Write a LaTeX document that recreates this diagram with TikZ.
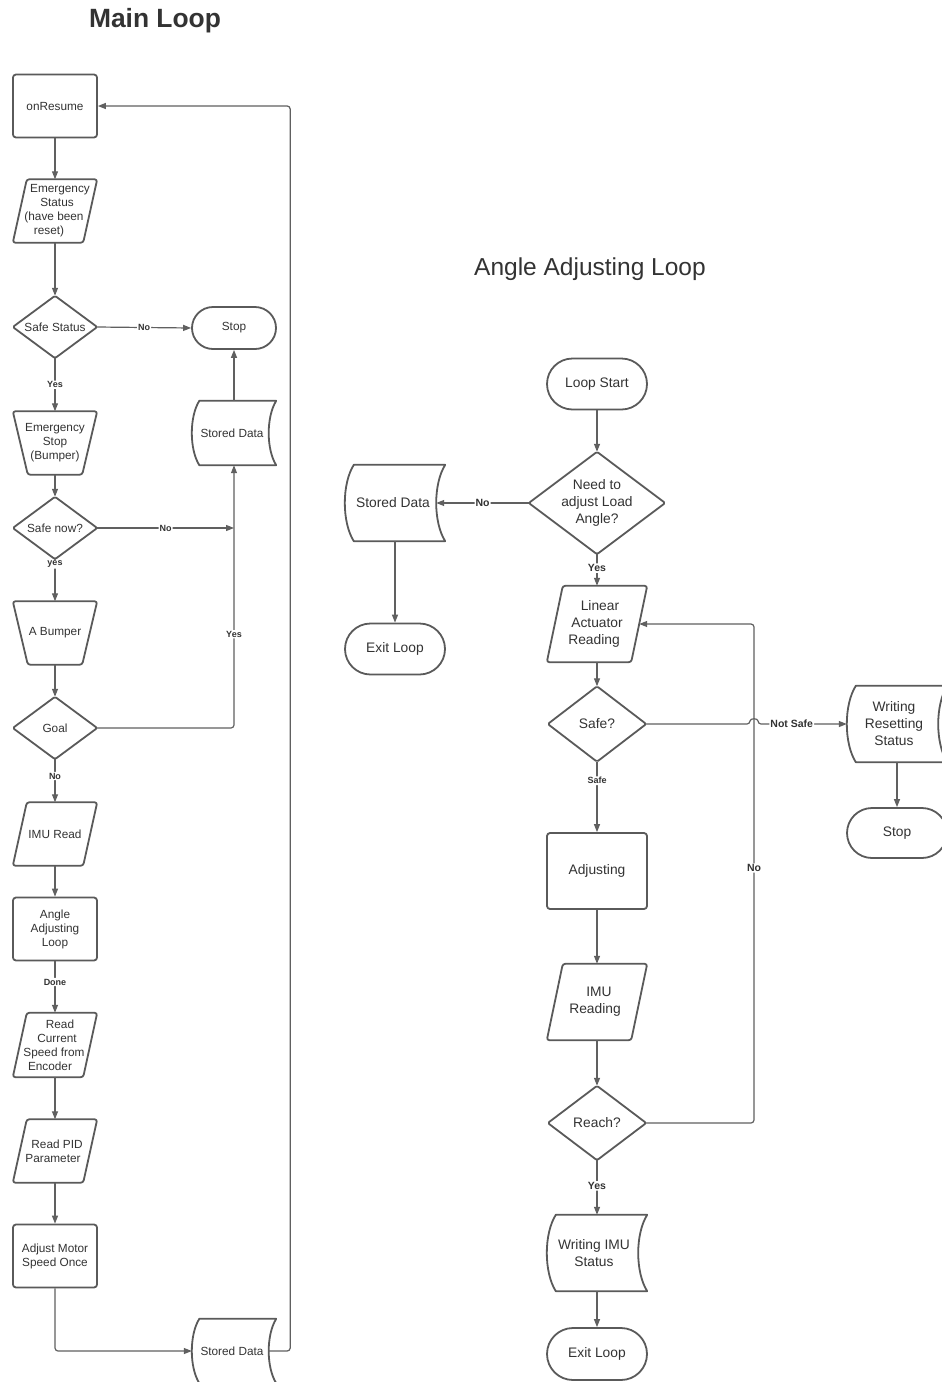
\documentclass[tikz,border=0pt]{standalone}
\usepackage{fontspec}
\setmainfont{Liberation Sans}
\usetikzlibrary{arrows.meta,calc}
\definecolor{shpc}{HTML}{5A5A5A}
\definecolor{linec}{HTML}{606060}
\definecolor{txtc}{HTML}{333333}
\tikzset{
  box/.style={draw=none, inner sep=0pt, align=center, text=txtc, minimum width=84pt, minimum height=63pt, font=\fontsize{11.8}{14}\selectfont},
  bigbox/.style={box, minimum width=100pt, minimum height=76pt, font=\fontsize{13.8}{17}\selectfont},
  shp/.style={draw=shpc, line width=1.8pt, line join=round},
  rectshape/.style={shp, rounded corners=3pt},
  stadium/.style={shp},
  arr/.style={draw=linec, line width=1.2pt, rounded corners=3pt, -{Triangle[length=8pt,width=6pt]}},
  conn/.style={draw=linec, line width=1.2pt, rounded corners=3pt},
  lbl/.style={fill=white, inner sep=1pt, text=txtc, font=\bfseries\fontsize{9}{10}\selectfont},
  lblb/.style={lbl, font=\bfseries\fontsize{10.5}{12}\selectfont},
}
\newcommand\fcpara[2]{\draw[shp, rounded corners=2.5pt] let \p1=(#1.north west),\p2=(#1.south east) in (\x1+#2,\y1) -- (\x2,\y1) -- (\x2-#2,\y2) -- (\x1,\y2) -- cycle;}
\newcommand\fctrap[2]{\draw[shp, rounded corners=2.5pt] let \p1=(#1.north west),\p2=(#1.south east) in (\x1,\y1) -- (\x2,\y1) -- (\x2-#2,\y2) -- (\x1+#2,\y2) -- cycle;}
\newcommand\fcdiam[1]{\draw[shp, rounded corners=1.5pt] (#1.west) -- (#1.north) -- (#1.east) -- (#1.south) -- cycle;}
\newcommand\fcsd[2]{\draw[shp] let \p1=(#1.north west),\p2=(#1.south east) in ({\x1+#2},\y1) -- (\x2,\y1) .. controls ({\x2-1.333*#2},{\y1+0.25*(\y2-\y1)}) and ({\x2-1.333*#2},{\y2-0.25*(\y2-\y1)}) .. (\x2,\y2) -- ({\x1+#2},\y2) .. controls ({\x1-0.333*#2},{\y2-0.25*(\y2-\y1)}) and ({\x1-0.333*#2},{\y1+0.25*(\y2-\y1)}) .. ({\x1+#2},\y1) -- cycle;}
\begin{document}
\begin{tikzpicture}[x=1pt,y=-1pt]
\useasboundingbox (0,0) rectangle (942,1382);
\fill[white] (0,0) rectangle (942,1382);
\clip (0,0) rectangle (942,1382);

% titles
\node[text=txtc, font=\bfseries\fontsize{26.4}{30}\selectfont] (t1) at (155,21) {Main Loop};
\node[text=txtc, font=\fontsize{24.5}{28}\selectfont] (t2) at (590,269) {Angle Adjusting Loop};

% ---------------- Main loop ----------------
\node[box, rectshape] (onr) at (55,106) {onResume};
\node[box] (es) at (55,211) {\hspace*{10pt}Emergency\\\hspace*{4pt}Status\\\hspace*{-2pt}(have been\\\hspace*{-12pt}reset)};
\node[box, minimum height=62pt] (ss) at (55,327) {Safe Status};
\node[box, stadium, minimum height=42pt, rounded corners=21pt] (stop1) at (234,328) {Stop};
\node[box] (esb) at (55,443) {Emergency\\Stop\\(Bumper)};
\node[box, minimum height=64pt] (sd1) at (234,433) {\hspace*{-4pt}Stored Data};
\node[box, minimum height=62pt] (sn) at (55,528) {Safe now?};
\node[box] (ab) at (55,633) {A Bumper};
\node[box, minimum height=62pt] (goal) at (55,728) {Goal};
\node[box] (imu) at (55,834) {IMU Read};
\node[box, rectshape] (aal) at (55,929) {Angle\\Adjusting\\Loop};
\node[box, minimum height=64pt] (rcs) at (55,1045) {\hspace*{10pt}Read\\\hspace*{4pt}Current\\\hspace*{-2pt}Speed from\\\hspace*{-10pt}Encoder};
\node[box] (pid) at (55,1151) {\hspace*{4pt}Read PID\\\hspace*{-4pt}Parameter};
\node[box, rectshape] (ams) at (55,1256) {Adjust Motor\\Speed Once};
\node[box, minimum height=64pt] (sd2) at (234,1351) {\hspace*{-4pt}Stored Data};

\fcpara{es}{14pt}
\fcdiam{ss}
\fctrap{esb}{15pt}
\fcsd{sd1}{7.5pt}
\fcdiam{sn}
\fctrap{ab}{15pt}
\fcdiam{goal}
\fcpara{imu}{14pt}
\fcpara{rcs}{14pt}
\fcpara{pid}{14pt}
\fcsd{sd2}{7.5pt}

\draw[arr] (onr.south) -- (es.north);
\draw[arr] (es.south) -- (ss.north);
\draw[arr] (ss.east) -- node[lbl]{No} (stop1.west);
\draw[arr] (ss.south) -- node[lbl]{Yes} (esb.north);
\draw[arr] (sd1.north) -- (stop1.south);
\draw[arr] (esb.south) -- (sn.north);
\draw[arr] (sn.east) -- node[lbl]{No} (sd1.south |- sn.east);
\draw[arr] (sn.south) -- node[lbl,pos=0.12]{yes} (ab.north);
\draw[arr] (ab.south) -- (goal.north);
\draw[arr] (goal.east) -- (sd1.south |- goal.east) -- node[lbl,pos=0.357]{Yes} (sd1.south);
\draw[arr] (goal.south) -- node[lbl,pos=0.39]{No} (imu.north);
\draw[arr] (imu.south) -- (aal.north);
\draw[arr] (aal.south) -- node[lbl,pos=0.4]{Done} (rcs.north);
\draw[arr] (rcs.south) -- (pid.north);
\draw[arr] (pid.south) -- (ams.north);
\draw[arr] (ams.south) |- (sd2.west);
\draw[arr] ([xshift=-8pt]sd2.east) -- ++(22,0) |- (onr.east);

% ---------------- Angle adjusting loop ----------------
\node[bigbox, stadium, minimum height=51pt, rounded corners=25.5pt] (ls) at (597,384) {Loop Start};
\node[bigbox, minimum width=136pt, minimum height=102pt] (need) at (597,503) {Need to\\adjust Load\\Angle?};
\node[bigbox] (sd3) at (395,503) {\hspace*{-4pt}Stored Data};
\node[bigbox, stadium, minimum height=51pt, rounded corners=25.5pt] (exit1) at (395,649) {Exit Loop};
\node[bigbox] (la) at (597,624) {\hspace*{6pt}Linear\\Actuator\\\hspace*{-6pt}Reading};
\node[bigbox, minimum width=98pt, minimum height=75pt] (safe) at (597,724) {Safe?};
\node[bigbox] (wrs) at (897,724) {\hspace*{-6pt}Writing\\\hspace*{-6pt}Resetting\\\hspace*{-6pt}Status};
\node[bigbox, stadium, minimum height=50pt, rounded corners=25pt] (stop2) at (897,833) {Stop};
\node[bigbox, rectshape] (adj) at (597,871) {Adjusting};
\node[bigbox] (imur) at (597,1002) {\hspace*{4pt}IMU\\\hspace*{-4pt}Reading};
\node[bigbox, minimum width=98pt, minimum height=74pt] (reach) at (597,1123) {Reach?};
\node[bigbox] (wis) at (597,1253) {\hspace*{-6pt}Writing IMU\\\hspace*{-6pt}Status};
\node[bigbox, stadium, minimum height=52pt, rounded corners=26pt] (exit2) at (597,1354) {Exit Loop};

\fcdiam{need}
\fcsd{sd3}{9pt}
\fcpara{la}{16pt}
\fcdiam{safe}
\fcsd{wrs}{9pt}
\fcpara{imur}{16pt}
\fcdiam{reach}
\fcsd{wis}{9pt}

\draw[arr] (ls.south) -- (need.north);
\draw[arr] (need.west) -- node[lblb]{No} ([xshift=-9pt]sd3.east);
\draw[arr] (sd3.south) -- (exit1.north);
\draw[arr] (need.south) -- node[lblb,pos=0.44]{Yes} (la.north);
\draw[arr] (la.south) -- (safe.north);
\coordinate (j1) at (750,724);
\coordinate (j2) at (758,724);
\draw[arr] (safe.east) -- (j1) .. controls (750,718) and (758,718) .. (j2) -- node[lblb,pos=0.38]{Not Safe} (wrs.west);
\draw[arr] (safe.south) -- node[lbl,pos=0.27]{Safe} (adj.north);
\draw[arr] (wrs.south) -- (stop2.north);
\draw[arr] (adj.south) -- (imur.north);
\draw[arr] (imur.south) -- (reach.north);
\coordinate (rc) at (754,1123);
\draw[arr] (reach.east) -- (rc) -- node[lblb,pos=0.511]{No} (rc |- la.east) -- ([xshift=-8pt]la.east);
\draw[arr] (reach.south) -- node[lblb,pos=0.47]{Yes} (wis.north);
\draw[arr] (wis.south) -- (exit2.north);
\end{tikzpicture}
\end{document}
